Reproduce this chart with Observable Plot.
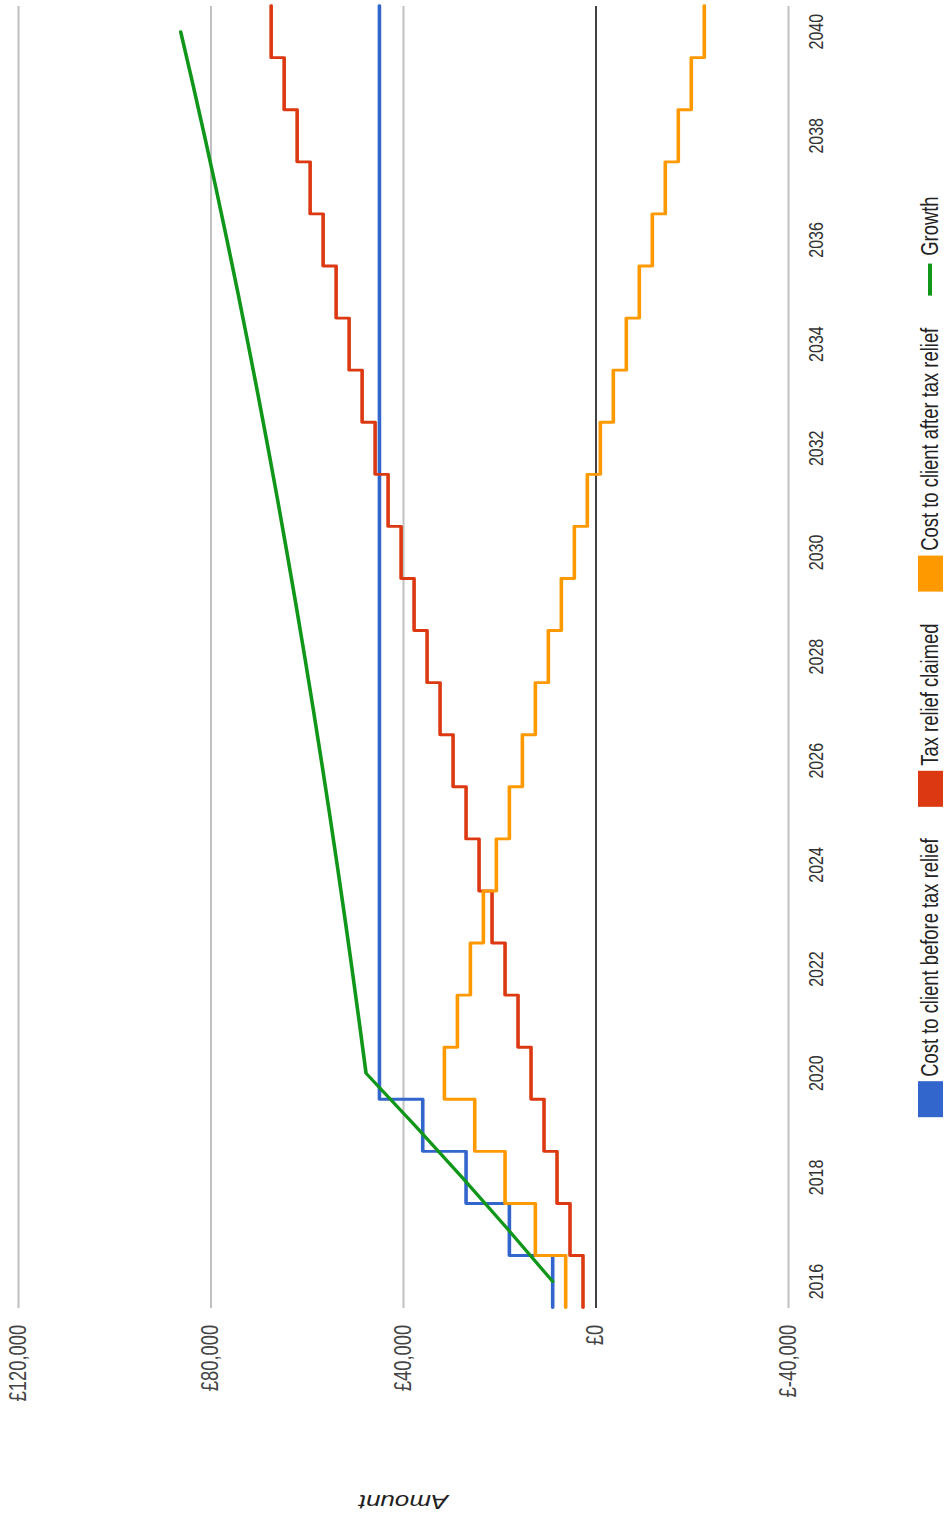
<!DOCTYPE html>
<html>
<head>
<meta charset="utf-8">
<script src="https://cdn.jsdelivr.net/npm/d3@7"></script>
<script src="https://cdn.jsdelivr.net/npm/@observablehq/plot@0.6"></script>
<style>
  html, body { margin: 0; padding: 0; background: #fff; overflow: hidden; }
  body { width: 947px; height: 1514px; position: relative; }
  #wrap {
    position: absolute; left: 0; top: 0;
    width: 1892.5px; height: 947px;
    transform-origin: 0 0;
    transform: translate(0px, 1514px) rotate(-90deg) scale(0.8, 1);
    background: #fff;
    font-family: "Liberation Sans", Arial, sans-serif;
  }
  #chart svg { display: block; }
  #legend {
    position: absolute; top: 917px; left: 257.5px; width: 1627.5px; height: 26px;
    display: flex; justify-content: center; align-items: center; gap: 40px;
    font-size: 23px; color: #222; white-space: nowrap;
  }
  .item { display: flex; align-items: center; gap: 6px; }
  .sw { width: 45px; height: 25px; }
  .ln { width: 40px; height: 4px; margin-right: 4px; }
</style>
</head>
<body>
<div id="wrap">
  <div id="chart"></div>
  <div id="legend"></div>
</div>
<script>
// ---- data ----
const years = [2016, 2017, 2018, 2019, 2020, 2021, 2022, 2023, 2024, 2025, 2026, 2027, 2028,
               2029, 2030, 2031, 2032, 2033, 2034, 2035, 2036, 2037, 2038, 2039, 2040];
const costBefore = [9000, 18000, 27000, 36000, 45000, 45000, 45000, 45000, 45000, 45000, 45000, 45000, 45000,
                    45000, 45000, 45000, 45000, 45000, 45000, 45000, 45000, 45000, 45000, 45000, 45000];
const taxRelief = [2700, 5400, 8100, 10800, 13500, 16200, 18900, 21600, 24300, 27000, 29700, 32400, 35100,
                   37800, 40500, 43200, 45900, 48600, 51300, 54000, 56700, 59400, 62100, 64800, 67500];
const costAfter = [6300, 12600, 18900, 25200, 31500, 28800, 26100, 23400, 20700, 18000, 15300, 12600, 9900,
                   7200, 4500, 1800, -900, -3600, -6300, -9000, -11700, -14400, -17100, -19800, -22500];
const growth = [9000, 18270, 27820, 37650, 47780, 49220, 50690, 52210, 53780, 55390, 57060, 58770, 60530,
                62350, 64220, 66140, 68130, 70170, 72280, 74440, 76680, 78980, 81350, 83790, 86300];

const yearTicks = [2016, 2018, 2020, 2022, 2024, 2026, 2028, 2030, 2032, 2034, 2036, 2038, 2040];
const amountTicks = [-40000, 0, 40000, 80000, 120000];
const amountLabels = ["£-40,000", "£0", "£40,000", "£80,000", "£120,000"];
const seriesNames = ["Cost to client before tax relief", "Tax relief claimed", "Cost to client after tax relief", "Growth"];
const seriesColors = ["#3366cc", "#dc3912", "#ff9900", "#109618"];
const axisTitle = "Amount";

// stepped series: each value covers its year band
const steps = (vals) => years.flatMap((yr, i) => [{x: yr - 0.5, v: vals[i]}, {x: yr + 0.5, v: vals[i]}]);
const pts = (vals) => years.map((yr, i) => ({x: yr, v: vals[i]}));

const chart = Plot.plot({
  width: 1892.5,
  height: 880,
  marginTop: 18,
  marginBottom: 92,
  marginLeft: 257.5,
  marginRight: 7.5,
  style: {fontFamily: "'Liberation Sans', Arial, sans-serif", background: "white", overflow: "visible"},
  x: {type: "linear", domain: [2015.5, 2040.5]},
  y: {type: "linear", domain: [-40000, 120000]},
  marks: [
    Plot.gridY(amountTicks, {stroke: "#c0c0c0", strokeOpacity: 1, strokeWidth: 2}),
    Plot.ruleY([0], {stroke: "#333", strokeWidth: 1.8}),
    Plot.axisY(amountTicks, {
      tickSize: 0, tickPadding: 21.5, fontSize: 23, color: "#444", label: null,
      tickFormat: d => amountLabels[amountTicks.indexOf(d)]
    }),
    Plot.axisX(yearTicks, {
      tickSize: 0, tickPadding: 20, fontSize: 20, color: "#333", label: null,
      tickFormat: d => String(d)
    }),
    Plot.text([axisTitle], {
      frameAnchor: "left", textAnchor: "middle", lineAnchor: "middle", dx: -242.5, rotate: -90,
      fontSize: 26, fontStyle: "italic", fill: "#222"
    }),
    Plot.line(steps(costBefore), {x: "x", y: "v", stroke: seriesColors[0], strokeWidth: 3.6}),
    Plot.line(steps(taxRelief), {x: "x", y: "v", stroke: seriesColors[1], strokeWidth: 3.6}),
    Plot.line(steps(costAfter), {x: "x", y: "v", stroke: seriesColors[2], strokeWidth: 3.6}),
    Plot.line(pts(growth), {x: "x", y: "v", stroke: seriesColors[3], strokeWidth: 3.6})
  ]
});
document.getElementById("chart").appendChild(chart);

// legend
const legend = document.getElementById("legend");
seriesNames.forEach((name, i) => {
  const item = document.createElement("div");
  item.className = "item";
  const sw = document.createElement("span");
  sw.className = i === 3 ? "ln" : "sw";
  sw.style.background = seriesColors[i];
  const t = document.createElement("span");
  t.textContent = name;
  item.appendChild(sw);
  item.appendChild(t);
  legend.appendChild(item);
});
</script>
</body>
</html>
